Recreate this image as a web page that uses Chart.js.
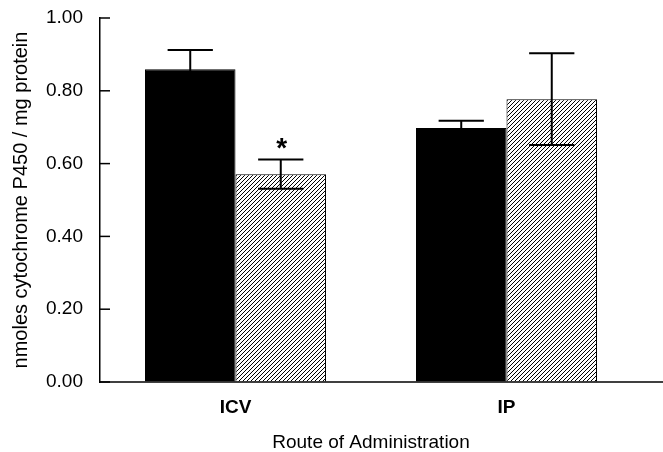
<!DOCTYPE html>
<html>
<head>
<meta charset="utf-8">
<script src="https://cdn.jsdelivr.net/npm/chart.js@4/dist/chart.umd.min.js"></script>
<style>
  html, body { margin: 0; padding: 0; background: #fff; }
  #wrap { width: 663px; height: 452px; }
</style>
</head>
<body>
<div id="wrap"><canvas id="c" width="663" height="452"></canvas></div>
<script>
// ---- data ----
const categories = ['ICV', 'IP'];
const controlValues = [0.859, 0.698];
const controlErrors = [0.053, 0.020];
const treatedValues = [0.571, 0.777];
const treatedErrors = [0.040, 0.126];
const treatedMarks = ['*', ''];
const yTicks = [0.00, 0.20, 0.40, 0.60, 0.80, 1.00];
const yTitle = 'nmoles cytochrome P450 / mg protein';
const xTitle = 'Route of Administration';

const FONT = '"Liberation Sans", Arial, Helvetica, sans-serif';

function makeHatch() {
  const s = 4;
  const c = document.createElement('canvas');
  c.width = s; c.height = s;
  const g = c.getContext('2d');
  g.fillStyle = '#ffffff';
  g.fillRect(0, 0, s, s);
  g.strokeStyle = '#000000';
  g.lineWidth = 1;
  g.beginPath();
  g.moveTo(-1, s + 1); g.lineTo(s + 1, -1);
  g.moveTo(-1, 1); g.lineTo(1, -1);
  g.moveTo(s - 1, s + 1); g.lineTo(s + 1, s - 1);
  g.stroke();
  return g.createPattern(c, 'repeat');
}

const errorSets = [controlErrors, treatedErrors];
const markSets = [null, treatedMarks];

const extras = {
  id: 'extras',
  afterDatasetsDraw(chart) {
    const ctx = chart.ctx;
    const y = chart.scales.y;
    const area = chart.chartArea;
    ctx.save();
    ctx.strokeStyle = '#000';
    // x axis line extending to the right edge
    const y0 = y.getPixelForValue(0);
    ctx.lineWidth = 1.5;
    ctx.beginPath();
    ctx.moveTo(area.left, y0);
    ctx.lineTo(chart.width, y0);
    ctx.stroke();
    // inward y ticks
    yTicks.forEach(v => {
      const py = y.getPixelForValue(v);
      ctx.beginPath();
      ctx.moveTo(area.left, py);
      ctx.lineTo(area.left + 10, py);
      ctx.stroke();
    });
    // error bars
    ctx.lineWidth = 2;
    chart.data.datasets.forEach((ds, di) => {
      const meta = chart.getDatasetMeta(di);
      meta.data.forEach((bar, j) => {
        const v = ds.data[j];
        const e = errorSets[di][j];
        const x = bar.x;
        const half = bar.width / 4;
        const top = y.getPixelForValue(v + e);
        const bot = y.getPixelForValue(v - e);
        ctx.beginPath();
        ctx.moveTo(x, top); ctx.lineTo(x, bot);
        ctx.moveTo(x - half, top); ctx.lineTo(x + half, top);
        ctx.moveTo(x - half, bot); ctx.lineTo(x + half, bot);
        ctx.stroke();
        const marks = markSets[di];
        if (marks && marks[j]) {
          ctx.fillStyle = '#000';
          ctx.font = 'bold 28px ' + FONT;
          ctx.textAlign = 'center';
          ctx.textBaseline = 'alphabetic';
          ctx.fillText(marks[j], x + 1, top - 3);
        }
      });
    });
    ctx.restore();
  }
};

new Chart(document.getElementById('c'), {
  type: 'bar',
  data: {
    labels: categories,
    datasets: [
      {
        label: 'Control',
        data: controlValues,
        backgroundColor: '#000000',
        borderColor: '#000000',
        borderWidth: 1,
        categoryPercentage: 0.668,
        barPercentage: 1.0
      },
      {
        label: 'Treated',
        data: treatedValues,
        backgroundColor: makeHatch(),
        borderColor: '#000000',
        borderWidth: 1,
        categoryPercentage: 0.668,
        barPercentage: 1.0
      }
    ]
  },
  options: {
    responsive: false,
    animation: false,
    events: [],
    layout: { padding: { top: 18, right: 21, left: 0, bottom: 0 } },
    plugins: {
      legend: { display: false },
      tooltip: { enabled: false }
    },
    scales: {
      x: {
        grid: { display: false, drawTicks: false },
        border: { display: false },
        ticks: {
          color: '#000',
          padding: 14,
          font: { family: FONT, size: 19, weight: 'bold' }
        },
        title: {
          display: true,
          text: xTitle,
          color: '#000',
          padding: { top: 0, bottom: 0 },
          font: { family: FONT, size: 19, lineHeight: 1 }
        },
        afterFit(s) { s.height = 70; }
      },
      y: {
        min: 0,
        max: 1,
        afterBuildTicks(s) { s.ticks = yTicks.map(v => ({ value: v })); },
        grid: { drawOnChartArea: false, drawTicks: false },
        border: { display: true, color: '#000', width: 1.5 },
        ticks: {
          color: '#000',
          padding: 17,
          font: { family: FONT, size: 19 },
          callback: v => Number(v).toFixed(2)
        },
        title: {
          display: true,
          text: yTitle,
          color: '#000',
          padding: { top: 11, bottom: 0 },
          font: { family: FONT, size: 20, lineHeight: 1 }
        },
        afterFit(s) { s.width = 100; s.paddingTop = 0; s.paddingBottom = 0; }
      }
    }
  },
  plugins: [extras]
});
</script>
</body>
</html>
